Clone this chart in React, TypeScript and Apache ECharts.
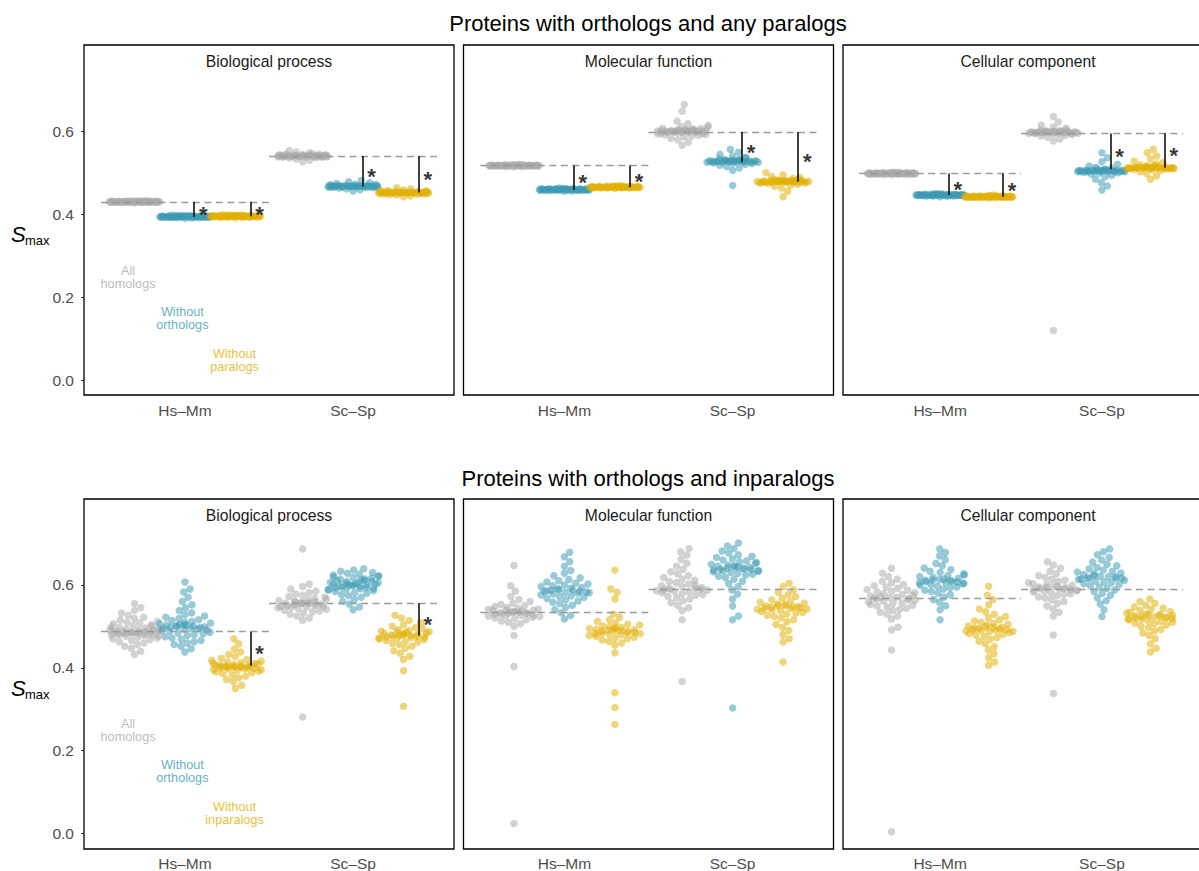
import React, { useEffect, useRef } from "react";
import * as echarts from "echarts";

// ---------- labels ----------
const categories = ["Hs\u2013Mm", "Sc\u2013Sp"];
const ontologies = ["Biological process", "Molecular function", "Cellular component"];
const rowTitles = ["Proteins with orthologs and any paralogs", "Proteins with orthologs and inparalogs"];
const groupLabelsTop = ["All\nhomologs", "Without\northologs", "Without\nparalogs"];
const groupLabelsBottom = ["All\nhomologs", "Without\northologs", "Without\ninparalogs"];
const groupColors = ["#A9A9A9", "#3B9AB2", "#E1AF00"];
const yTicks = [0, 0.2, 0.4, 0.6];

// ---------- data: top row (orthologs and any paralogs) ----------
const topBP_HsMm_all = [0.427,0.428,0.428,0.429,0.429,0.429,0.429,0.430,0.430,0.430,0.430,0.430,0.430,0.430,0.430,0.431,0.431,0.431,0.431,0.431,0.432,0.432,0.432,0.433,0.429,0.430,0.431,0.430,0.428,0.432,0.429,0.430,0.431,0.430,0.429,0.431,0.430,0.432,0.428,0.430,0.431,0.429,0.430,0.430,0.431,0.429,0.430,0.431];
const topBP_HsMm_noOrth = [0.390,0.391,0.392,0.392,0.393,0.393,0.393,0.394,0.394,0.394,0.394,0.394,0.394,0.395,0.395,0.395,0.395,0.395,0.396,0.396,0.396,0.397,0.397,0.393,0.394,0.395,0.394,0.396,0.393,0.398,0.394,0.395,0.393,0.394,0.396,0.395,0.394,0.393,0.395,0.394,0.396,0.394,0.395,0.393,0.394,0.395,0.392,0.394];
const topBP_HsMm_noPara = [0.391,0.392,0.393,0.393,0.394,0.394,0.394,0.395,0.395,0.395,0.395,0.395,0.395,0.396,0.396,0.396,0.396,0.396,0.397,0.397,0.397,0.398,0.398,0.394,0.395,0.396,0.395,0.397,0.394,0.399,0.395,0.396,0.394,0.395,0.397,0.396,0.395,0.394,0.396,0.395,0.397,0.395,0.396,0.394,0.395,0.396,0.393,0.395];
const topBP_ScSp_all = [0.526,0.530,0.533,0.535,0.536,0.537,0.538,0.538,0.539,0.539,0.539,0.540,0.540,0.540,0.540,0.540,0.541,0.541,0.541,0.541,0.542,0.542,0.543,0.543,0.544,0.545,0.546,0.548,0.550,0.553,0.540,0.539,0.541,0.540,0.538,0.539,0.540,0.541,0.542,0.540,0.539,0.541,0.540,0.537,0.543,0.540];
const topBP_ScSp_noOrth = [0.456,0.459,0.461,0.463,0.464,0.465,0.465,0.466,0.466,0.466,0.467,0.467,0.467,0.467,0.467,0.468,0.468,0.468,0.468,0.469,0.469,0.470,0.470,0.471,0.472,0.474,0.476,0.478,0.481,0.467,0.466,0.468,0.465,0.466,0.467,0.468,0.469,0.467,0.466,0.468,0.467,0.464,0.470,0.467];
const topBP_ScSp_noPara = [0.442,0.444,0.446,0.447,0.448,0.449,0.450,0.450,0.451,0.451,0.451,0.452,0.452,0.452,0.452,0.452,0.453,0.453,0.453,0.454,0.454,0.455,0.455,0.456,0.457,0.459,0.461,0.464,0.452,0.451,0.453,0.450,0.451,0.452,0.453,0.454,0.452,0.451,0.453,0.452,0.449,0.455,0.452];

const topMF_HsMm_all = [0.515,0.515,0.516,0.516,0.516,0.516,0.517,0.517,0.517,0.517,0.517,0.517,0.517,0.517,0.518,0.518,0.518,0.518,0.518,0.519,0.519,0.519,0.520,0.516,0.517,0.518,0.517,0.516,0.518,0.514,0.517,0.516,0.518,0.517,0.516,0.517,0.518,0.517,0.516,0.518,0.517,0.517,0.516,0.519,0.517,0.518];
const topMF_HsMm_noOrth = [0.455,0.456,0.457,0.457,0.458,0.458,0.458,0.459,0.459,0.459,0.459,0.459,0.459,0.460,0.460,0.460,0.460,0.460,0.461,0.461,0.461,0.462,0.462,0.463,0.459,0.458,0.460,0.459,0.461,0.458,0.459,0.460,0.458,0.459,0.461,0.460,0.459,0.458,0.460,0.459,0.457,0.460,0.459,0.461,0.459,0.460];
const topMF_HsMm_noPara = [0.462,0.463,0.463,0.464,0.464,0.464,0.465,0.465,0.465,0.465,0.465,0.465,0.466,0.466,0.466,0.466,0.466,0.467,0.467,0.467,0.468,0.468,0.469,0.464,0.465,0.466,0.465,0.464,0.466,0.463,0.465,0.466,0.464,0.465,0.467,0.466,0.465,0.464,0.466,0.465,0.463,0.466,0.465,0.467,0.465,0.466];
const topMF_ScSp_all = [0.664,0.648,0.624,0.618,0.614,0.611,0.609,0.607,0.606,0.605,0.604,0.603,0.602,0.602,0.601,0.601,0.600,0.600,0.600,0.599,0.599,0.598,0.598,0.597,0.597,0.596,0.595,0.594,0.593,0.592,0.591,0.590,0.588,0.586,0.583,0.579,0.573,0.566,0.600,0.599,0.601,0.598,0.602,0.600,0.597,0.603,0.599,0.600];
const topMF_ScSp_noOrth = [0.556,0.549,0.544,0.540,0.537,0.535,0.533,0.532,0.531,0.530,0.529,0.529,0.528,0.528,0.528,0.527,0.527,0.527,0.526,0.526,0.525,0.525,0.524,0.523,0.522,0.520,0.518,0.515,0.511,0.506,0.469,0.528,0.527,0.529,0.526,0.528,0.527,0.530,0.525,0.528,0.526,0.529,0.527,0.528];
const topMF_ScSp_noPara = [0.500,0.495,0.491,0.488,0.486,0.484,0.483,0.482,0.481,0.481,0.480,0.480,0.480,0.479,0.479,0.479,0.478,0.478,0.478,0.477,0.477,0.476,0.475,0.474,0.472,0.470,0.467,0.463,0.455,0.442,0.479,0.478,0.480,0.477,0.479,0.478,0.481,0.476,0.479,0.478,0.480,0.477,0.479];

const topCC_HsMm_all = [0.495,0.496,0.496,0.497,0.497,0.497,0.498,0.498,0.498,0.498,0.498,0.498,0.498,0.499,0.499,0.499,0.499,0.499,0.500,0.500,0.500,0.501,0.497,0.498,0.499,0.498,0.497,0.499,0.498,0.501,0.498,0.497,0.499,0.498,0.496,0.498,0.499,0.497,0.498,0.500,0.498,0.497,0.499,0.498,0.498,0.499];
const topCC_HsMm_noOrth = [0.442,0.443,0.444,0.444,0.445,0.445,0.445,0.446,0.446,0.446,0.446,0.446,0.446,0.447,0.447,0.447,0.447,0.447,0.448,0.448,0.448,0.449,0.449,0.445,0.446,0.447,0.446,0.445,0.447,0.450,0.446,0.445,0.447,0.446,0.444,0.446,0.447,0.445,0.446,0.448,0.446,0.445,0.447,0.446,0.446,0.447];
const topCC_HsMm_noPara = [0.439,0.440,0.440,0.441,0.441,0.441,0.442,0.442,0.442,0.442,0.442,0.442,0.442,0.443,0.443,0.443,0.443,0.443,0.444,0.444,0.444,0.445,0.441,0.442,0.443,0.442,0.441,0.443,0.442,0.446,0.442,0.441,0.443,0.442,0.440,0.442,0.443,0.441,0.442,0.444,0.442,0.441,0.443,0.442,0.442,0.443];
const topCC_ScSp_all = [0.635,0.622,0.614,0.610,0.607,0.604,0.602,0.601,0.600,0.599,0.599,0.598,0.598,0.598,0.597,0.597,0.597,0.596,0.596,0.595,0.595,0.594,0.593,0.592,0.590,0.588,0.585,0.581,0.576,0.120,0.598,0.597,0.596,0.599,0.598,0.597,0.600,0.596,0.598,0.597,0.599,0.598,0.595,0.598];
const topCC_ScSp_noOrth = [0.548,0.536,0.526,0.520,0.516,0.513,0.511,0.509,0.508,0.507,0.506,0.506,0.505,0.505,0.505,0.504,0.504,0.504,0.503,0.503,0.502,0.502,0.501,0.500,0.499,0.497,0.494,0.490,0.484,0.476,0.468,0.458,0.505,0.504,0.506,0.503,0.505,0.504,0.507,0.502,0.505,0.503,0.506,0.504];
const topCC_ScSp_noPara = [0.556,0.548,0.540,0.533,0.528,0.524,0.521,0.519,0.517,0.516,0.515,0.514,0.513,0.513,0.512,0.512,0.512,0.511,0.511,0.511,0.510,0.510,0.509,0.508,0.507,0.505,0.502,0.498,0.492,0.484,0.512,0.511,0.513,0.510,0.512,0.511,0.514,0.509,0.512,0.511,0.513,0.510,0.512];

// ---------- data: bottom row (orthologs and inparalogs) ----------
const botBP_HsMm_all = [0.555,0.545,0.538,0.532,0.527,0.522,0.519,0.515,0.512,0.510,0.508,0.506,0.504,0.502,0.500,0.499,0.497,0.496,0.494,0.493,0.492,0.491,0.490,0.489,0.488,0.488,0.487,0.487,0.486,0.486,0.485,0.485,0.484,0.484,0.483,0.483,0.482,0.481,0.480,0.479,0.478,0.477,0.476,0.474,0.472,0.470,0.468,0.466,0.463,0.460,0.456,0.452,0.447,0.440,0.432];
const botBP_HsMm_noOrth = [0.607,0.590,0.583,0.570,0.560,0.552,0.545,0.538,0.533,0.528,0.525,0.522,0.519,0.516,0.514,0.512,0.510,0.508,0.506,0.505,0.504,0.503,0.502,0.501,0.500,0.500,0.499,0.498,0.497,0.496,0.495,0.494,0.493,0.492,0.490,0.488,0.486,0.484,0.482,0.480,0.478,0.475,0.472,0.469,0.466,0.463,0.460,0.456,0.452,0.446,0.438];
const botBP_HsMm_noPara = [0.470,0.458,0.445,0.438,0.432,0.427,0.423,0.420,0.418,0.416,0.414,0.412,0.411,0.410,0.409,0.408,0.407,0.406,0.405,0.405,0.404,0.404,0.403,0.403,0.402,0.402,0.401,0.400,0.400,0.399,0.398,0.397,0.396,0.395,0.394,0.392,0.390,0.388,0.386,0.383,0.380,0.376,0.372,0.366,0.358,0.350];
const botBP_ScSp_all = [0.687,0.602,0.596,0.590,0.585,0.581,0.578,0.575,0.572,0.570,0.568,0.566,0.564,0.562,0.561,0.560,0.559,0.558,0.557,0.556,0.556,0.555,0.555,0.554,0.553,0.552,0.551,0.550,0.549,0.548,0.547,0.546,0.545,0.543,0.541,0.539,0.537,0.535,0.532,0.529,0.525,0.520,0.515,0.281];
const botBP_ScSp_noOrth = [0.639,0.636,0.633,0.630,0.628,0.626,0.624,0.622,0.621,0.619,0.618,0.616,0.615,0.614,0.612,0.611,0.610,0.609,0.608,0.607,0.606,0.605,0.604,0.603,0.602,0.601,0.600,0.600,0.599,0.598,0.597,0.596,0.595,0.594,0.593,0.592,0.591,0.590,0.589,0.588,0.586,0.584,0.582,0.580,0.577,0.574,0.570,0.565,0.560,0.554,0.547,0.540];
const botBP_ScSp_noPara = [0.527,0.520,0.514,0.508,0.504,0.500,0.497,0.494,0.492,0.490,0.488,0.487,0.486,0.485,0.484,0.483,0.482,0.481,0.480,0.479,0.478,0.478,0.477,0.476,0.475,0.474,0.473,0.472,0.471,0.470,0.468,0.466,0.464,0.462,0.459,0.456,0.452,0.447,0.441,0.435,0.428,0.420,0.393,0.307];

const botMF_HsMm_all = [0.647,0.598,0.585,0.572,0.565,0.560,0.556,0.553,0.550,0.548,0.546,0.544,0.542,0.541,0.540,0.539,0.538,0.537,0.536,0.535,0.534,0.534,0.533,0.533,0.532,0.531,0.530,0.529,0.528,0.527,0.526,0.525,0.524,0.522,0.520,0.518,0.516,0.513,0.510,0.506,0.500,0.478,0.403,0.024];
const botMF_HsMm_noOrth = [0.679,0.668,0.656,0.645,0.635,0.628,0.622,0.617,0.613,0.610,0.607,0.604,0.602,0.600,0.598,0.596,0.594,0.592,0.590,0.589,0.588,0.587,0.586,0.585,0.584,0.583,0.582,0.581,0.580,0.578,0.576,0.574,0.572,0.570,0.567,0.564,0.561,0.558,0.555,0.551,0.546,0.540,0.533,0.526,0.518];
const botMF_HsMm_noPara = [0.636,0.590,0.582,0.566,0.530,0.522,0.516,0.512,0.508,0.505,0.503,0.501,0.499,0.497,0.496,0.495,0.494,0.493,0.492,0.491,0.490,0.489,0.488,0.487,0.486,0.485,0.484,0.483,0.482,0.481,0.480,0.478,0.476,0.474,0.472,0.470,0.467,0.464,0.460,0.455,0.436,0.340,0.304,0.263];
const botMF_ScSp_all = [0.688,0.680,0.672,0.662,0.652,0.645,0.638,0.632,0.627,0.622,0.618,0.614,0.611,0.608,0.605,0.602,0.600,0.598,0.596,0.594,0.592,0.591,0.590,0.589,0.588,0.587,0.586,0.585,0.583,0.581,0.579,0.577,0.575,0.572,0.569,0.566,0.562,0.557,0.551,0.545,0.538,0.516,0.367];
const botMF_ScSp_noOrth = [0.701,0.694,0.688,0.682,0.677,0.673,0.669,0.666,0.663,0.660,0.658,0.656,0.654,0.652,0.650,0.648,0.646,0.645,0.644,0.643,0.642,0.641,0.640,0.639,0.638,0.637,0.636,0.635,0.634,0.633,0.632,0.630,0.628,0.626,0.624,0.621,0.618,0.614,0.609,0.603,0.596,0.588,0.578,0.566,0.549,0.525,0.516,0.303];
const botMF_ScSp_noPara = [0.604,0.596,0.588,0.582,0.577,0.572,0.568,0.564,0.561,0.558,0.556,0.554,0.552,0.551,0.550,0.549,0.548,0.547,0.546,0.545,0.544,0.543,0.542,0.541,0.540,0.538,0.536,0.534,0.532,0.530,0.527,0.524,0.520,0.516,0.511,0.505,0.498,0.490,0.480,0.470,0.462,0.414];

const botCC_HsMm_all = [0.640,0.628,0.620,0.614,0.609,0.605,0.601,0.598,0.595,0.592,0.589,0.587,0.585,0.583,0.581,0.579,0.577,0.575,0.573,0.571,0.570,0.569,0.568,0.567,0.566,0.565,0.563,0.561,0.559,0.557,0.555,0.553,0.551,0.549,0.547,0.544,0.541,0.538,0.534,0.530,0.525,0.518,0.498,0.492,0.443,0.004];
const botCC_HsMm_noOrth = [0.687,0.678,0.670,0.661,0.652,0.646,0.641,0.637,0.633,0.630,0.627,0.624,0.622,0.620,0.618,0.616,0.614,0.613,0.612,0.611,0.610,0.609,0.608,0.607,0.606,0.605,0.604,0.603,0.601,0.599,0.597,0.595,0.593,0.590,0.587,0.584,0.580,0.576,0.571,0.565,0.558,0.550,0.540,0.516];
const botCC_HsMm_noPara = [0.597,0.575,0.565,0.552,0.542,0.535,0.529,0.524,0.520,0.516,0.513,0.510,0.507,0.505,0.503,0.501,0.499,0.498,0.497,0.496,0.495,0.494,0.493,0.492,0.491,0.490,0.489,0.488,0.487,0.485,0.483,0.481,0.479,0.476,0.473,0.469,0.464,0.458,0.451,0.443,0.434,0.424,0.414,0.406];
const botCC_ScSp_all = [0.656,0.648,0.640,0.633,0.627,0.622,0.618,0.614,0.611,0.608,0.605,0.603,0.601,0.599,0.597,0.596,0.595,0.594,0.593,0.592,0.591,0.590,0.589,0.588,0.587,0.586,0.585,0.583,0.581,0.579,0.577,0.574,0.571,0.568,0.564,0.560,0.555,0.549,0.542,0.534,0.525,0.479,0.338];
const botCC_ScSp_noOrth = [0.687,0.680,0.673,0.666,0.660,0.655,0.650,0.646,0.642,0.639,0.636,0.633,0.631,0.629,0.627,0.625,0.623,0.621,0.620,0.619,0.618,0.617,0.616,0.615,0.614,0.613,0.611,0.609,0.607,0.605,0.603,0.601,0.598,0.595,0.592,0.588,0.584,0.580,0.575,0.569,0.562,0.554,0.540,0.524];
const botCC_ScSp_noPara = [0.566,0.560,0.555,0.551,0.547,0.544,0.541,0.538,0.536,0.534,0.532,0.530,0.529,0.528,0.527,0.526,0.525,0.524,0.523,0.522,0.521,0.520,0.519,0.518,0.517,0.516,0.514,0.512,0.510,0.508,0.506,0.503,0.500,0.497,0.493,0.489,0.484,0.478,0.470,0.458,0.447,0.438];

// medians of "All homologs" per ontology: [Hs–Mm, Sc–Sp]
const allMedianTop = [[0.430, 0.540], [0.517, 0.598], [0.498, 0.594]];
const allMedianBottom = [[0.487, 0.556], [0.533, 0.589], [0.567, 0.590]];
// significant differences: [ontology, category, group, group median]
const sigTop = [
  [0, 0, 1, 0.394], [0, 0, 2, 0.395], [0, 1, 1, 0.467], [0, 1, 2, 0.452],
  [1, 0, 1, 0.459], [1, 0, 2, 0.465], [1, 1, 1, 0.525], [1, 1, 2, 0.478],
  [2, 0, 1, 0.446], [2, 0, 2, 0.442], [2, 1, 1, 0.508], [2, 1, 2, 0.512],
];
const sigBottom = [[0, 0, 2, 0.405], [0, 1, 2, 0.478]];

const rowsData = [
  [
    [[topBP_HsMm_all, topBP_HsMm_noOrth, topBP_HsMm_noPara], [topBP_ScSp_all, topBP_ScSp_noOrth, topBP_ScSp_noPara]],
    [[topMF_HsMm_all, topMF_HsMm_noOrth, topMF_HsMm_noPara], [topMF_ScSp_all, topMF_ScSp_noOrth, topMF_ScSp_noPara]],
    [[topCC_HsMm_all, topCC_HsMm_noOrth, topCC_HsMm_noPara], [topCC_ScSp_all, topCC_ScSp_noOrth, topCC_ScSp_noPara]],
  ],
  [
    [[botBP_HsMm_all, botBP_HsMm_noOrth, botBP_HsMm_noPara], [botBP_ScSp_all, botBP_ScSp_noOrth, botBP_ScSp_noPara]],
    [[botMF_HsMm_all, botMF_HsMm_noOrth, botMF_HsMm_noPara], [botMF_ScSp_all, botMF_ScSp_noOrth, botMF_ScSp_noPara]],
    [[botCC_HsMm_all, botCC_HsMm_noOrth, botCC_HsMm_noPara], [botCC_ScSp_all, botCC_ScSp_noOrth, botCC_ScSp_noPara]],
  ],
];
const rowsMedians = [allMedianTop, allMedianBottom];
const rowsSig = [sigTop, sigBottom];
const rowsGroupLabels = [groupLabelsTop, groupLabelsBottom];

// ---------- layout ----------
const FONT = '"Liberation Sans", Arial, Helvetica, sans-serif';
const PANEL_LEFT = [84, 463.5, 843];
const PANEL_W = 370;
const BOX_TOP = [45, 499];
const BOX_H = 350;
const PLOT_TOP = [75, 529];
const PLOT_H = 320;
const X_MIN = 0.4, X_MAX = 2.6, Y_MIN = -0.035, Y_MAX = 0.735;
const PX_X = PANEL_W / (X_MAX - X_MIN);
const PX_Y = PLOT_H / (Y_MAX - Y_MIN);
const DODGE = 0.3;
const DOT = 7.5;
const SPACING = 7;
const HALF = 26;
const SEG_OFFSET = [0, 0.055, 0.39];
const STAR_DX = 0.054;
const LABEL_X = [0.662, 0.985, 1.295];
const LABEL_Y = [0.248, 0.149, 0.048];
const TITLE_Y = [23, 478];
const STRIP_Y = [61, 515];
const YTITLE_Y = [234, 688];

function wrap(x: number): number {
  if (Math.abs(x) <= HALF) return x;
  const w = 2 * HALF;
  return ((((x + HALF) % w) + w) % w) - HALF;
}

function swarmOffsets(vals: number[]): number[] {
  const order = vals.map((_, i) => i).sort((a, b) => vals[a] - vals[b]);
  const placed: { x: number; y: number }[] = [];
  const out: number[] = new Array(vals.length).fill(0);
  const d2 = SPACING * SPACING;
  for (const i of order) {
    const y = vals[i] * PX_Y;
    const near = placed.filter((p) => Math.abs(p.y - y) < SPACING);
    const cands = [0];
    near.forEach((p) => {
      const dx = Math.sqrt(Math.max(0, d2 - (p.y - y) ** 2));
      cands.push(p.x + dx + 0.01, p.x - dx - 0.01);
    });
    cands.sort((a, b) => Math.abs(a) - Math.abs(b));
    let x = 0;
    for (const c of cands) {
      if (near.every((p) => (p.x - c) ** 2 + (p.y - y) ** 2 >= d2 - 0.001)) {
        x = c;
        break;
      }
    }
    placed.push({ x, y });
    out[i] = x;
  }
  return out.map(wrap);
}

function buildOption(): any {
  const grid: any[] = [];
  const xAxis: any[] = [];
  const yAxis: any[] = [];
  const series: any[] = [];
  const graphic: any[] = [];

  for (let r = 0; r < 2; r++) {
    graphic.push({
      type: "text", x: 648, y: TITLE_Y[r], silent: true,
      style: { text: rowTitles[r], fontSize: 22, fontFamily: FONT, fill: "#000", align: "center", verticalAlign: "middle" },
    });
    graphic.push({
      type: "text", x: 11, y: YTITLE_Y[r], silent: true,
      style: { text: "S", fontSize: 22, fontStyle: "italic", fontFamily: FONT, fill: "#000", align: "left", verticalAlign: "middle" },
    });
    graphic.push({
      type: "text", x: 25, y: YTITLE_Y[r] + 6, silent: true,
      style: { text: "max", fontSize: 13, fontFamily: FONT, fill: "#000", align: "left", verticalAlign: "middle" },
    });

    for (let o = 0; o < 3; o++) {
      const gi = r * 3 + o;
      graphic.push({
        type: "rect", silent: true, z: 100,
        shape: { x: PANEL_LEFT[o], y: BOX_TOP[r], width: PANEL_W, height: BOX_H },
        style: { fill: "none", stroke: "#000", lineWidth: 1.3 },
      });
      graphic.push({
        type: "text", x: PANEL_LEFT[o] + PANEL_W / 2, y: STRIP_Y[r], silent: true,
        style: { text: ontologies[o], fontSize: 15.7, fontFamily: FONT, fill: "#1a1a1a", align: "center", verticalAlign: "middle" },
      });

      grid.push({ left: PANEL_LEFT[o], top: PLOT_TOP[r], width: PANEL_W, height: PLOT_H });
      xAxis.push({
        gridIndex: gi, type: "value", min: X_MIN, max: X_MAX,
        axisLine: { show: false }, axisTick: { show: false }, splitLine: { show: false },
        axisLabel: {
          customValues: [1, 2],
          formatter: (v: number) => categories[Math.round(v) - 1] ?? "",
          fontSize: 15.5, color: "#4d4d4d", margin: 7, fontFamily: FONT,
        },
      });
      yAxis.push({
        gridIndex: gi, type: "value", min: Y_MIN, max: Y_MAX,
        axisLine: { show: false }, splitLine: { show: false },
        axisTick: { show: o === 0, customValues: yTicks, length: 3, lineStyle: { color: "#333", width: 1 } },
        axisLabel: {
          show: o === 0, customValues: yTicks,
          formatter: (v: number) => v.toFixed(1),
          fontSize: 15.5, color: "#4d4d4d", margin: 10, fontFamily: FONT,
        },
      });

      const panel = rowsData[r][o];
      for (let g = 0; g < 3; g++) {
        const pts: number[][] = [];
        for (let c = 0; c < 2; c++) {
          const vals = panel[c][g];
          const offs = swarmOffsets(vals);
          vals.forEach((v, i) => pts.push([c + 1 + (g - 1) * DODGE + offs[i] / PX_X, v]));
        }
        series.push({
          type: "scatter", xAxisIndex: gi, yAxisIndex: gi, silent: true, z: 2,
          symbolSize: DOT, itemStyle: { color: groupColors[g], opacity: 0.52 },
          data: pts,
        });
      }
      const meds = rowsMedians[r][o];
      series.push({
        type: "lines", coordinateSystem: "cartesian2d", xAxisIndex: gi, yAxisIndex: gi, silent: true, z: 3,
        lineStyle: { color: "#9a9a9a", width: 1.3, type: [7, 4.5], opacity: 1 },
        data: meds.map((m, c) => ({ coords: [[c + 0.5, m], [c + 1.5, m]] })),
      });
      const sigs = rowsSig[r].filter((s) => s[0] === o);
      if (sigs.length) {
        series.push({
          type: "lines", coordinateSystem: "cartesian2d", xAxisIndex: gi, yAxisIndex: gi, silent: true, z: 4,
          lineStyle: { color: "#000", width: 1.5, type: "solid", opacity: 1 },
          data: sigs.map((s) => {
            const x = s[1] + 1 + SEG_OFFSET[s[2]];
            return { coords: [[x, meds[s[1]]], [x, s[3]]] };
          }),
        });
        series.push({
          type: "scatter", xAxisIndex: gi, yAxisIndex: gi, silent: true, z: 5, symbolSize: 0,
          label: { show: true, position: "inside", formatter: "*", fontSize: 22, fontWeight: "bold", color: "#000", fontFamily: FONT, offset: [0, 5] },
          data: sigs.map((s) => [s[1] + 1 + SEG_OFFSET[s[2]] + STAR_DX, (meds[s[1]] + s[3]) / 2]),
        });
      }
      if (o === 0) {
        series.push({
          type: "scatter", xAxisIndex: gi, yAxisIndex: gi, silent: true, z: 5, symbolSize: 0,
          data: rowsGroupLabels[r].map((t, g) => ({
            value: [LABEL_X[g], LABEL_Y[g]],
            label: { show: true, position: "inside", formatter: t, color: groupColors[g], fontSize: 12.7, lineHeight: 13, fontFamily: FONT, align: "center" },
          })),
        });
      }
    }
  }

  return {
    animation: false,
    backgroundColor: "#ffffff",
    textStyle: { fontFamily: FONT },
    grid, xAxis, yAxis, series, graphic,
  };
}

export default function App() {
  const ref = useRef<HTMLDivElement>(null);
  useEffect(() => {
    document.body.style.margin = "0";
    const chart = echarts.init(ref.current!, null, { renderer: "svg" });
    chart.setOption(buildOption());
    return () => chart.dispose();
  }, []);
  return <div ref={ref} style={{ width: 1199, height: 871 }} />;
}
